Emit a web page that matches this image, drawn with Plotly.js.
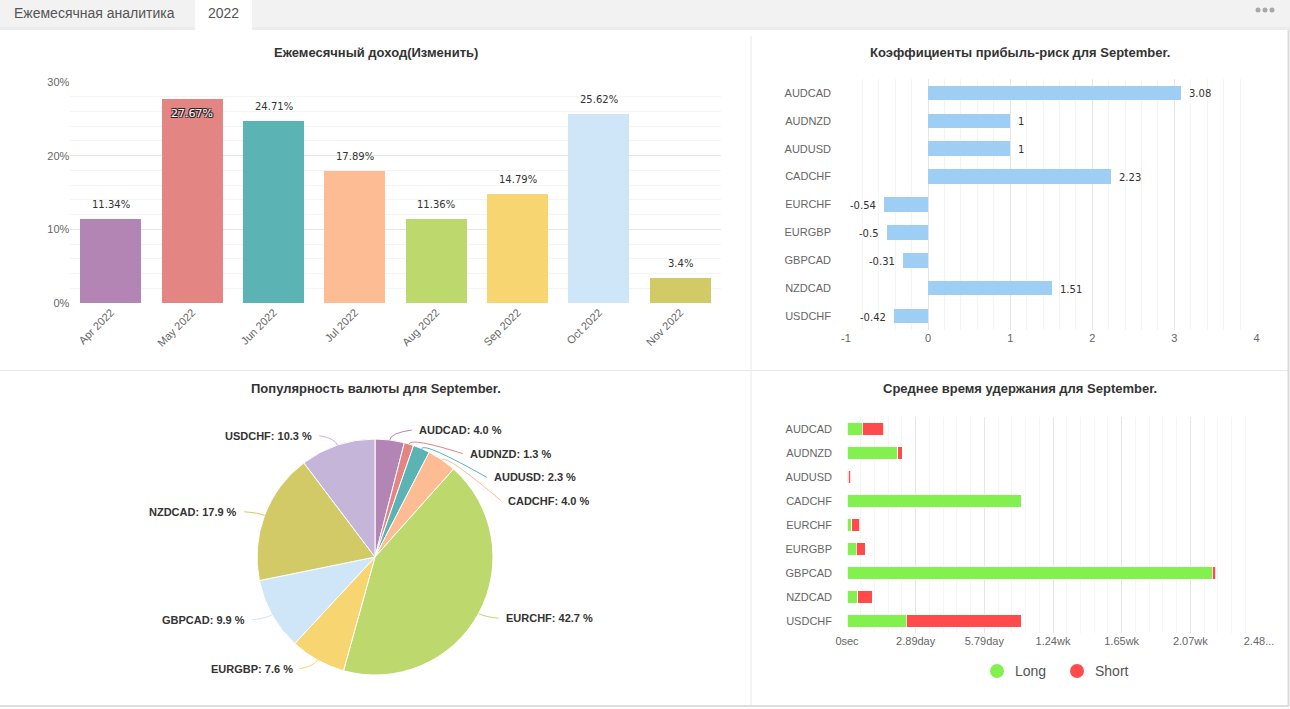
<!DOCTYPE html>
<html>
<head>
<meta charset="utf-8">
<script src="https://cdn.plot.ly/plotly-3.0.1.min.js"></script>
<style>
  html, body { margin: 0; padding: 0; background: #fff; overflow: hidden; }
  #page { width: 1290px; height: 709px; }
</style>
</head>
<body>
<div id="page"></div>
<script>
// ---- data ----
const months = ['Apr 2022', 'May 2022', 'Jun 2022', 'Jul 2022', 'Aug 2022', 'Sep 2022', 'Oct 2022', 'Nov 2022'];
const monthlyReturn = [11.34, 27.67, 24.71, 17.89, 11.36, 14.79, 25.62, 3.4];

const pairs = ['AUDCAD', 'AUDNZD', 'AUDUSD', 'CADCHF', 'EURCHF', 'EURGBP', 'GBPCAD', 'NZDCAD', 'USDCHF'];
const profitRisk = [3.08, 1, 1, 2.23, -0.54, -0.5, -0.31, 1.51, -0.42];
const ratioTicks = [-1, 0, 1, 2, 3, 4];

const pairShare = [4.0, 1.3, 2.3, 4.0, 42.7, 7.6, 9.9, 17.9, 10.3];

// average hold time, seconds
const holdLong  = [56000, 184000, 5000, 634000, 17000, 34000, 1330000, 40000, 216000];
const holdShort = [78000, 17000, 9000, 0, 30000, 32000, 12500, 52000, 418000];
const holdTickText = ['0sec', '2.89day', '5.79day', '1.24wk', '1.65wk', '2.07wk', '2.48...'];
const holdTickStep = 250000;

// ---- styling ----
const palette = ['#b385b5', '#e38583', '#5bb4b3', '#fdbc93', '#bdd86d', '#f7d672', '#cfe5f8', '#d2ca67', '#c5b5d8'];
const W = 1290, H = 709;
const px = x => x / W;
const py = y => 1 - y / H;
const AX = { family: 'Liberation Sans, Arial, sans-serif', size: 11, color: '#666' };
const LBL = { family: 'DejaVu Sans, Verdana, sans-serif', size: 10, color: '#333' };
const TITLE = { family: 'Liberation Sans, Arial, sans-serif', size: 13, color: '#333', weight: 'bold' };

const traces = [];
const shapes = [];
const annotations = [];

// Monthly return bars
traces.push({
  type: 'bar', x: months, y: monthlyReturn, xaxis: 'x', yaxis: 'y',
  width: 0.75,
  marker: { color: palette.slice(0, months.length) },
  hoverinfo: 'skip', showlegend: false
});
// value labels: above the bar, or inside its top when the bar nearly fills the axis
monthlyReturn.forEach((v, i) => {
  const inside = v > 27;
  annotations.push({
    xref: 'x', yref: 'y', x: months[i], y: v, text: v + '%', showarrow: false,
    yanchor: inside ? 'top' : 'bottom', yshift: inside ? -6 : 7,
    font: inside
      ? Object.assign({}, LBL, { color: '#fff', size: 11, shadow: '-1px -1px 0 #222, 1px -1px 0 #222, -1px 1px 0 #222, 1px 1px 0 #222' })
      : LBL
  });
});

// Profit-risk ratio bars
traces.push({
  type: 'bar', orientation: 'h', x: profitRisk, y: pairs, xaxis: 'x2', yaxis: 'y2',
  width: 0.52,
  marker: { color: '#9fcef4' },
  hoverinfo: 'skip', showlegend: false
});
profitRisk.forEach((v, i) => {
  annotations.push({
    xref: 'x2', yref: 'y2', x: v, y: pairs[i], text: String(v), showarrow: false,
    xanchor: v >= 0 ? 'left' : 'right', xshift: v >= 0 ? 6 : -6, yshift: -1,
    font: LBL
  });
});

// Currency popularity pie
const pieBox = { x0: 257, x1: 493, y0: 438.5, y1: 675.5 };
traces.push({
  type: 'pie', values: pairShare, labels: pairs,
  domain: { x: [px(pieBox.x0), px(pieBox.x1)], y: [py(pieBox.y1), py(pieBox.y0)] },
  sort: false, direction: 'clockwise', rotation: 0,
  textinfo: 'none',
  marker: { colors: palette, line: { color: '#fff', width: 1 } },
  hoverinfo: 'skip', showlegend: false
});

// Hold time stacked bars
traces.push({
  type: 'bar', orientation: 'h', name: 'Long', x: holdLong, y: pairs, xaxis: 'x3', yaxis: 'y3',
  width: 0.52, marker: { color: '#82f150', line: { color: '#fff', width: 0.8 } },
  hoverinfo: 'skip', showlegend: false
});
traces.push({
  type: 'bar', orientation: 'h', name: 'Short', x: holdShort, y: pairs, xaxis: 'x3', yaxis: 'y3',
  width: 0.52, marker: { color: '#ff4b4b', line: { color: '#fff', width: 0.8 } },
  hoverinfo: 'skip', showlegend: false
});

// ---- page furniture ----
function hline(x0, x1, y, color, w) {
  shapes.push({ type: 'line', xref: 'paper', yref: 'paper', x0: px(x0), x1: px(x1), y0: py(y), y1: py(y), line: { color, width: w || 1 } });
}
function vline(x, y0, y1, color, w) {
  shapes.push({ type: 'line', xref: 'paper', yref: 'paper', x0: px(x), x1: px(x), y0: py(y0), y1: py(y1), line: { color, width: w || 1 } });
}
function rect(x0, y0, x1, y1, fill) {
  shapes.push({ type: 'rect', xref: 'paper', yref: 'paper', x0: px(x0), x1: px(x1), y0: py(y1), y1: py(y0), fillcolor: fill, line: { width: 0 }, layer: 'below' });
}
function text(t, x, y, font, xanchor) {
  annotations.push({ text: t, xref: 'paper', yref: 'paper', x: px(x), y: py(y), xanchor: xanchor || 'center', yanchor: 'middle', showarrow: false, font });
}

// tab strip
rect(0, 0, W, 30, '#f2f2f2');
rect(0, 27, W, 30, '#ececec');
rect(195, 0, 252, 30, '#ffffff');
text('Ежемесячная аналитика', 12, 13, { family: 'Liberation Sans, Arial, sans-serif', size: 14, color: '#555' }, 'left');
text('2022', 206, 13, { family: 'Liberation Sans, Arial, sans-serif', size: 14, color: '#555' }, 'left');
[1258, 1265, 1272].forEach(cx => shapes.push({
  type: 'circle', xref: 'paper', yref: 'paper', x0: px(cx - 2.5), x1: px(cx + 2.5), y0: py(12.5), y1: py(7.5),
  fillcolor: '#a8a8a8', line: { width: 0 }
}));

// panel dividers and frame
vline(751, 36, 705, '#e8e8e8');
hline(0, 1288, 370.5, '#e8e8e8');
vline(1288.5, 30, 706, '#dadada', 2);
hline(0, 1289, 706, '#dedede', 2);

// panel titles
text('Ежемесячный доход(Изменить)', 376, 53, TITLE);
text('Коэффициенты прибыль-риск для September.', 1020, 53, TITLE);
text('Популярность валюты для September.', 376, 388, TITLE);
text('Среднее время удержания для September.', 1020, 388, TITLE);

// pie labels with connectors, placed from each slice's mid angle
(function () {
  const cx = (pieBox.x0 + pieBox.x1) / 2, cy = (pieBox.y0 + pieBox.y1) / 2;
  const r = Math.min(pieBox.x1 - pieBox.x0, pieBox.y1 - pieBox.y0) / 2;
  const total = pairShare.reduce((a, b) => a + b, 0);
  let acc = 0;
  const items = pairShare.map((v, i) => {
    const mid = (acc + v / 2) / total * 2 * Math.PI;
    acc += v;
    return { i, mid, right: Math.sin(mid) >= 0, ny: cy - (r + 10) * Math.cos(mid) };
  });
  [true, false].forEach(side => {
    const list = items.filter(it => it.right === side).sort((a, b) => a.ny - b.ny);
    let prev = -Infinity;
    list.forEach(it => { it.y = Math.max(it.ny, prev + 23.6, cy - r - 10); prev = it.y; });
  });
  const labelFont = { family: 'Liberation Sans, Arial, sans-serif', size: 11, color: '#333', weight: 'bold' };
  items.forEach(it => {
    const sgn = it.right ? 1 : -1;
    const dy = it.y - cy;
    const dx = Math.sqrt(Math.max(0, (r + 12) * (r + 12) - dy * dy));
    const lx = cx + sgn * (dx + 14);
    const sx = cx + r * Math.sin(it.mid), sy = cy - r * Math.cos(it.mid);
    const mx = cx + (r + 7) * Math.sin(it.mid), my = cy - (r + 7) * Math.cos(it.mid);
    const ex = lx - sgn * 5, ey = it.y;
    shapes.push({
      type: 'path', xref: 'paper', yref: 'paper',
      path: `M ${px(sx)},${py(sy)} Q ${px(mx)},${py(my)} ${px(ex)},${py(ey)}`,
      line: { color: palette[it.i], width: 1 }
    });
    text(`${pairs[it.i]}: ${pairShare[it.i].toFixed(1)} %`, lx, it.y, labelFont, it.right ? 'left' : 'right');
  });
})();

// hold-time legend
[['Long', '#82f150', 997], ['Short', '#ff4b4b', 1077]].forEach(([name, color, cx]) => {
  shapes.push({ type: 'circle', xref: 'paper', yref: 'paper', x0: px(cx - 7), x1: px(cx + 7), y0: py(678), y1: py(664), fillcolor: color, line: { width: 0 } });
  text(name, cx + 16, 671, { family: 'Liberation Sans, Arial, sans-serif', size: 14, color: '#555' }, 'left');
});

// ---- layout ----
const layout = {
  width: W, height: H,
  margin: { l: 0, r: 0, t: 0, b: 0 },
  paper_bgcolor: '#fff', plot_bgcolor: 'rgba(0,0,0,0)',
  showlegend: false, hovermode: false,
  barmode: 'stack',
  font: AX,
  xaxis: {
    domain: [px(70.3), px(720.9)], anchor: 'y', type: 'category',
    tickangle: -45, tickfont: AX, showgrid: false, showline: false, ticks: '', zeroline: false
  },
  yaxis: {
    domain: [py(303), py(82)], anchor: 'x', range: [0, 30], dtick: 10, ticksuffix: '%',
    tickfont: AX, gridcolor: '#e6e6e6', zeroline: false, ticks: '',
    minor: { dtick: 2, showgrid: true, gridcolor: '#f4f4f4' }
  },
  xaxis2: {
    domain: [px(846), px(1256.5)], anchor: 'y2', range: [-1, 4],
    tickvals: ratioTicks, ticktext: ratioTicks.map(String), tickfont: AX,
    gridcolor: '#e6e6e6', zeroline: false, ticks: '',
    minor: { dtick: 0.2, showgrid: true, gridcolor: '#f4f4f4' }
  },
  yaxis2: {
    domain: [py(330), py(79)], anchor: 'x2', type: 'category', autorange: 'reversed',
    tickfont: AX, showgrid: false, ticks: '', ticklabelstandoff: 14
  },
  xaxis3: {
    domain: [px(847), px(1259)], anchor: 'y3', range: [0, 1500000],
    tickvals: holdTickText.map((_, i) => i * holdTickStep), ticktext: holdTickText, tickfont: AX,
    gridcolor: '#e6e6e6', zeroline: false, ticks: '',
    minor: { dtick: 50000, showgrid: true, gridcolor: '#f5f5f5' }
  },
  yaxis3: {
    domain: [py(633), py(417)], anchor: 'x3', type: 'category', autorange: 'reversed',
    tickfont: AX, showgrid: false, ticks: '', ticklabelstandoff: 14
  },
  shapes, annotations
};

Plotly.newPlot('page', traces, layout, { staticPlot: true, displayModeBar: false });
</script>
</body>
</html>
